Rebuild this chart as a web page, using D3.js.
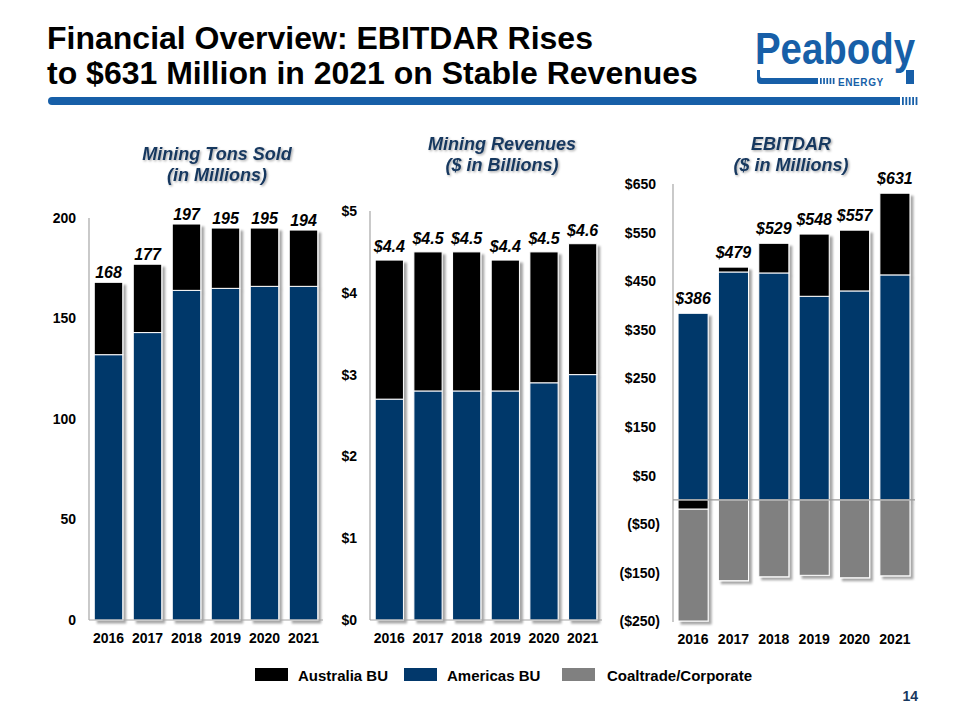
<!DOCTYPE html>
<html><head><meta charset="utf-8">
<script src="https://cdn.jsdelivr.net/npm/d3@7"></script>
<style>
body{margin:0;background:#fff;}
svg{display:block;font-family:Arial,"Liberation Sans",sans-serif;}
</style></head>
<body>
<svg id="c" width="960" height="720"></svg>
<script>
const years = ["2016","2017","2018","2019","2020","2021"];
// Mining Tons Sold (millions)
const tonsAmericas  = [132, 143, 164, 165, 166, 166];
const tonsAustralia = [36, 34, 33, 30, 29, 28];
const tonsLabels    = ["168","177","197","195","195","194"];
const tonsTicks     = [0, 50, 100, 150, 200];
// Mining Revenues ($ billions)
const revAmericas   = [2.7, 2.8, 2.8, 2.8, 2.9, 3.0];
const revAustralia  = [1.7, 1.7, 1.7, 1.6, 1.6, 1.6];
const revLabels     = ["$4.4","$4.5","$4.5","$4.4","$4.5","$4.6"];
const revTicks      = [0, 1, 2, 3, 4, 5];
// EBITDAR ($ millions)
const ebAmericas    = [384, 469, 467, 419, 430, 463];
const ebAustralia   = [-19, 10, 61, 128, 125, 168];
const ebCorporate   = [-230, -166, -158, -155, -160, -156];
const ebLabels      = ["$386","$479","$529","$548","$557","$631"];
const ebTicks       = [650, 550, 450, 350, 250, 150, 50, -50, -150, -250];

const legendItems = ["Australia BU","Americas BU","Coaltrade/Corporate"];
const colors = {"Australia BU":"#000000","Americas BU":"#02386b","Coaltrade/Corporate":"#808080"};

const svg = d3.select("#c");
const defs = svg.append("defs");
const f = defs.append("filter").attr("id","sh").attr("x","-20%").attr("y","-20%").attr("width","150%").attr("height","150%");
f.append("feDropShadow").attr("dx",3).attr("dy",3).attr("stdDeviation",1.3).attr("flood-color","#000").attr("flood-opacity",0.35);
const tf = defs.append("filter").attr("id","tsh").attr("x","-10%").attr("y","-30%").attr("width","130%").attr("height","160%");
tf.append("feDropShadow").attr("dx",1.2).attr("dy",1.2).attr("stdDeviation",0.8).attr("flood-color","#000").attr("flood-opacity",0.35);

// ---- Header ----
const title = svg.append("text").attr("font-family","Arial,'Liberation Sans',sans-serif")
  .attr("font-weight","bold").attr("font-size",32).attr("fill","#000");
title.append("tspan").attr("x",47).attr("y",49).text("Financial Overview: EBITDAR Rises");
title.append("tspan").attr("x",47).attr("y",84).text("to $631 Million in 2021 on Stable Revenues");

const blue = "#175fa8";
svg.append("rect").attr("x",48).attr("y",97).attr("width",852).attr("height",8).attr("rx",4).attr("fill",blue);
svg.append("rect").attr("x",880).attr("y",97).attr("width",20).attr("height",8).attr("fill",blue);
d3.range(5).forEach(i=>svg.append("rect").attr("x",902+i*3.4).attr("y",97).attr("width",1.8).attr("height",8).attr("fill",blue));

// logo
svg.append("text").attr("x",755).attr("y",64)
  .attr("font-family","Arial,'Liberation Sans',sans-serif").attr("font-weight","bold")
  .attr("font-size",45).attr("fill",blue).attr("textLength",160).attr("lengthAdjust","spacingAndGlyphs")
  .text("Peabody");
svg.append("path").attr("d","M757,70 L757,80 Q757,84 761,84 L818,84 L818,78 L762,78 Q760,78 760,76 L760,70 Z").attr("fill",blue);
d3.range(5).forEach(i=>svg.append("rect").attr("x",820+i*3.2).attr("y",78).attr("width",1.7).attr("height",6).attr("fill",blue));
svg.append("text").attr("x",838).attr("y",86).attr("font-family","Arial,sans-serif").attr("font-weight","bold")
  .attr("font-size",10).attr("fill",blue).attr("letter-spacing",0.6).text("ENERGY");
svg.append("rect").attr("x",906).attr("y",70).attr("width",8).attr("height",14).attr("fill",blue);

// ---- helpers ----
function subtitle(cx, lines, y0){
  const t = svg.append("text").attr("text-anchor","middle").attr("font-weight","bold").attr("font-style","italic")
    .attr("font-size",18).attr("fill","#17375e").attr("filter","url(#tsh)");
  lines.forEach((l,i)=>t.append("tspan").attr("x",cx).attr("y",y0+i*21).text(l));
}
function axisLines(x, yTop, yBot, xRight, baseline){
  svg.append("line").attr("x1",x).attr("x2",x).attr("y1",yTop).attr("y2",yBot).attr("stroke","#a6a6a6").attr("stroke-width",1.2);
  if (baseline) svg.append("line").attr("x1",x).attr("x2",xRight).attr("y1",yBot).attr("y2",yBot).attr("stroke","#a6a6a6").attr("stroke-width",1.2);
}
function xLabels(x, y){
  svg.append("g").selectAll("text").data(years).join("text")
    .attr("x",d=>x(d)+x.bandwidth()/2).attr("y",y).attr("text-anchor","middle")
    .attr("font-weight","bold").attr("font-size",14).attr("fill","#000").text(d=>d);
}
function yAxis(xPos, y, ticks, fmt){
  const g = svg.append("g").attr("transform",`translate(${xPos},0)`)
    .call(d3.axisLeft(y).tickValues(ticks).tickSize(0).tickPadding(13).tickFormat(fmt));
  g.select(".domain").remove();
  g.selectAll("text").attr("font-family","Arial,'Liberation Sans',sans-serif").attr("font-weight","bold").attr("font-size",14).attr("fill","#000");
  return g;
}
function barGroups(x, y, series){
  const g = svg.append("g");
  years.forEach((yr,i)=>{
    const bg = g.append("g").attr("filter","url(#sh)");
    series.forEach(s=>{
      const d = s[i];
      const lo = Math.min(d[0],d[1]), hi = Math.max(d[0],d[1]);
      if (hi === lo) return;
      bg.append("rect").attr("x",x(yr)).attr("width",x.bandwidth()).attr("y",y(hi)).attr("height",y(lo)-y(hi))
        .attr("fill",colors[s.key]).attr("stroke","#fff").attr("stroke-width",1);
    });
  });
}
function valueLabels(x, yFn, labels){
  svg.append("g").selectAll("text").data(years).join("text")
    .attr("x",d=>x(d)+x.bandwidth()/2).attr("y",(d,i)=>yFn(i))
    .attr("text-anchor","middle").attr("font-weight","bold").attr("font-style","italic").attr("font-size",16)
    .attr("fill","#000").text((d,i)=>labels[i]);
}

// ---- Chart 1: Tons ----
{
  const x = d3.scaleBand().domain(years).range([89,323]).paddingInner(0.27).paddingOuter(0.135);
  const y = d3.scaleLinear().domain([0,200]).range([620,218]);
  const data = years.map((yr,i)=>({year:yr,"Americas BU":tonsAmericas[i],"Australia BU":tonsAustralia[i]}));
  const series = d3.stack().keys(["Americas BU","Australia BU"])(data);
  barGroups(x,y,series);
  axisLines(89,218,620,323,true);
  yAxis(89,y,tonsTicks,d3.format("d"));
  xLabels(x,643);
  valueLabels(x,i=>y(tonsAmericas[i]+tonsAustralia[i])-4,tonsLabels);
  subtitle(217,["Mining Tons Sold","(in Millions)"],160);
}

// ---- Chart 2: Revenues ----
{
  const x = d3.scaleBand().domain(years).range([370,602]).paddingInner(0.27).paddingOuter(0.135);
  const y = d3.scaleLinear().domain([0,5]).range([620,211]);
  const data = years.map((yr,i)=>({year:yr,"Americas BU":revAmericas[i],"Australia BU":revAustralia[i]}));
  const series = d3.stack().keys(["Americas BU","Australia BU"])(data);
  barGroups(x,y,series);
  axisLines(370,211,620,602,true);
  yAxis(370,y,revTicks,d=>"$"+d);
  xLabels(x,643);
  valueLabels(x,i=>y(revAmericas[i]+revAustralia[i])-8,revLabels);
  subtitle(502,["Mining Revenues","($ in Billions)"],150);
}

// ---- Chart 3: EBITDAR ----
{
  const x = d3.scaleBand().domain(years).range([673,915]).paddingInner(0.255).paddingOuter(0.125);
  const y = d3.scaleLinear().domain([-250,650]).range([621.5,184]);
  const data = years.map((yr,i)=>({year:yr,"Americas BU":ebAmericas[i],"Australia BU":ebAustralia[i],"Coaltrade/Corporate":ebCorporate[i]}));
  const series = d3.stack().keys(["Americas BU","Australia BU","Coaltrade/Corporate"]).offset(d3.stackOffsetDiverging)(data);
  barGroups(x,y,series);
  axisLines(673,184,622,915,false);
  svg.append("line").attr("x1",673).attr("x2",915).attr("y1",y(0)).attr("y2",y(0)).attr("stroke","#999").attr("stroke-width",1.3);
  const ya = yAxis(673,y,ebTicks,d=>d<0?"($"+(-d)+")":"$"+d);
  ya.selectAll("text").attr("dx",d=>d>0?-4:0);
  xLabels(x,644);
  valueLabels(x,i=>y(ebAmericas[i]+Math.max(0,ebAustralia[i]))-9,ebLabels);
  subtitle(791,["EBITDAR","($ in Millions)"],150);
}

// ---- Legend ----
const legX = [255, 404, 562];
const lg = svg.append("g");
legendItems.forEach((k,i)=>{
  lg.append("rect").attr("x",legX[i]).attr("y",668).attr("width",33).attr("height",13).attr("fill",colors[k]);
  lg.append("text").attr("x",legX[i]+(i==2?45:43)).attr("y",681).attr("font-weight","bold").attr("font-size",15).attr("fill","#000").text(k);
});
svg.append("text").attr("x",918).attr("y",701).attr("text-anchor","end").attr("font-weight","bold").attr("font-size",14).attr("fill","#17375e").text("14");
</script>
</body></html>
